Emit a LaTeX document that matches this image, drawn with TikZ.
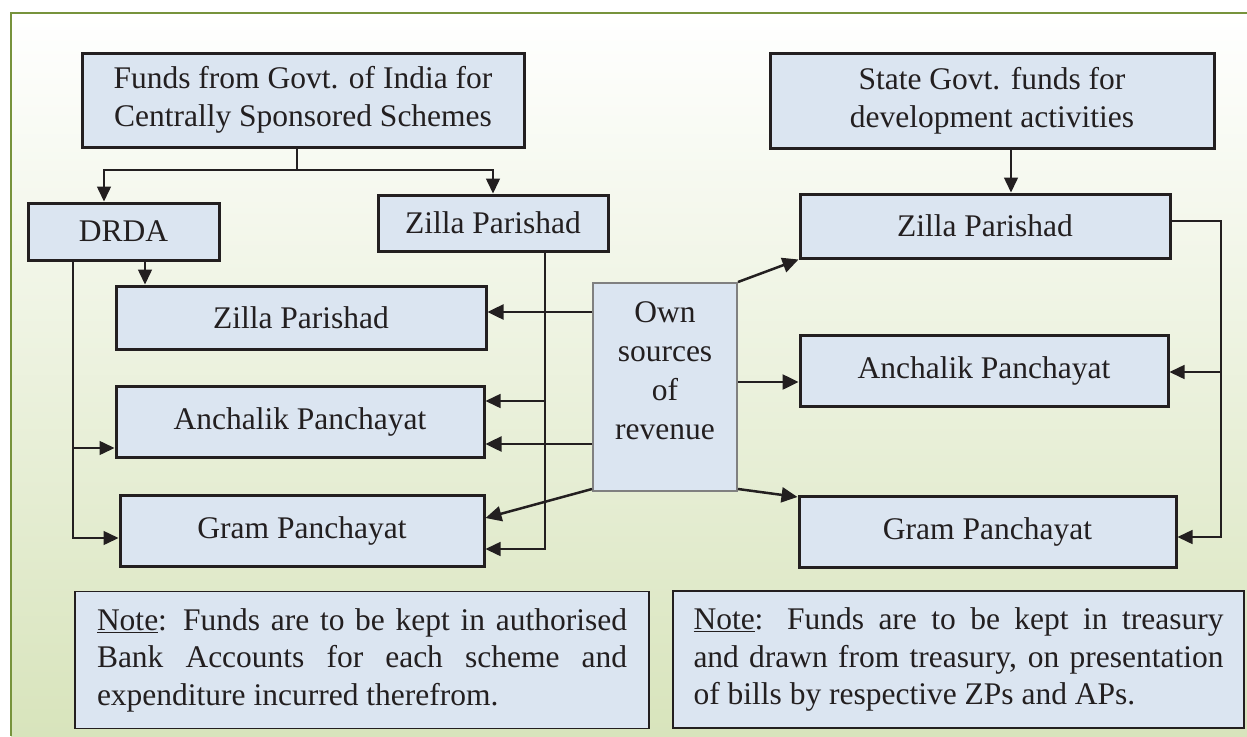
\documentclass[tikz,border=0pt]{standalone}
\usepackage{fontspec}
\setmainfont{Liberation Serif}
\usetikzlibrary{arrows.meta}
\definecolor{boxfill}{HTML}{DBE5F1}
\definecolor{boxline}{HTML}{231F20}
\definecolor{framegreen}{HTML}{77933C}
\definecolor{bgbottom}{HTML}{D8E4BC}
\newcommand{\boxtxt}{\fontsize{31.5}{38}\selectfont}
\tikzset{
  box/.style={draw=boxline, line width=3pt, fill=boxfill, font=\boxtxt, text=boxline, align=center, inner sep=0pt},
  ownbox/.style={draw=black!50, line width=2pt, fill=boxfill, inner sep=0pt},
  ownlbl/.style={font=\fontsize{31.5}{39}\selectfont, text=boxline, align=center, inner sep=0pt},
  notebox/.style={draw=boxline, line width=1.5pt, fill=boxfill, font=\fontsize{31.5}{37.5}\selectfont, text=boxline,
                  align=justify, text width=530pt, inner xsep=20pt, minimum height=137pt},
  link/.style={-{Triangle[length=15pt, width=14pt]}, line width=1.5pt, draw=boxline},
  olink/.style={-{Triangle[length=16pt, width=15pt]}, line width=2.5pt, draw=boxline},
  trunk/.style={line width=1.5pt, draw=boxline},
}

\begin{document}
\begin{tikzpicture}[x=1pt, y=-1pt]
\useasboundingbox (0,0) rectangle (1247,736);
% --- background + frame ---
\shade[top color=white, bottom color=bgbottom] (11,13) rectangle (1247,736);
\draw[framegreen, line width=2.5pt] (11,736) -- (11,13) -- (1247,13);

% --- sources of funds ---
\node[box, minimum width=442pt, minimum height=94pt] (funds) at (303,100) {Funds from Govt. of India for\\Centrally Sponsored Schemes};
\node[box, minimum width=444pt, minimum height=95pt] (state) at (992,100.5) {State Govt. funds for\\development activities};

% --- left side (GoI schemes) ---
\node[box, minimum width=191pt, minimum height=57pt] (drda) at (123.5,231.5) {DRDA};
\node[box, minimum width=230pt, minimum height=56pt] (zpa) at (493,223) {Zilla Parishad};
\node[box, minimum width=370pt, minimum height=63pt] (zpl) at (301,317.5) {Zilla Parishad};
\node[box, minimum width=368pt, minimum height=71pt] (apl) at (300,421.5) {Anchalik Panchayat};
\node[box, minimum width=364pt, minimum height=71pt] (gpl) at (302,530.5) {Gram Panchayat};

% --- own revenue ---
\node[ownbox, minimum width=144pt, minimum height=208pt] (own) at (665,387) {};
\node[ownlbl] (owntxt) at (665,371) {Own\\sources\\of\\revenue};

% --- right side (state funds) ---
\node[box, minimum width=370pt, minimum height=64pt] (zpr) at (985,226) {Zilla Parishad};
\node[box, minimum width=368pt, minimum height=71pt] (apr) at (984,370.5) {Anchalik Panchayat};
\node[box, minimum width=377pt, minimum height=71pt] (gpr) at (987.5,531.5) {Gram Panchayat};

% --- notes ---
\node[notebox, minimum width=574pt] (notel) at (362,660) {\underline{Note}: Funds are to be kept in authorised\linebreak Bank Accounts for each scheme and\linebreak expenditure incurred therefrom.};
\node[notebox, minimum width=571pt] (noter) at (958.5,659.5) {\underline{Note}: Funds are to be kept in treasury\linebreak and drawn from treasury, on presentation\linebreak of bills by respective ZPs and APs.};

% --- GoI funds ---
\coordinate (fk) at (297,170);
\draw[trunk] (funds.south -| fk) -- (fk);
\draw[link] (fk) -| ([xshift=-19.5pt]drda.north);
\draw[link] (fk) -| (zpa.north);
\draw[link] ([xshift=21.5pt]drda.south) -- ([xshift=21.5pt]drda.south |- zpl.north);

\coordinate (da) at (73,448);
\coordinate (dg) at (73,538);
\draw[link] (drda.south -| da) |- (dg -| gpl.west);
\draw[link] (da) -- (da -| apl.west);

\coordinate (za) at (545,401);
\coordinate (zg) at (545,549);
\draw[link] (zpa.south -| za) |- (zg -| gpl.east);
\draw[link] (za) -- (za -| apl.east);

% --- state funds ---
\draw[link] ([xshift=19pt]state.south) -- ([xshift=19pt]state.south |- zpr.north);
\coordinate (rt) at (1221,221);
\coordinate (ra) at (1221,372);
\coordinate (rg) at (1221,537);
\draw[link] (zpr.east |- rt) -- (rt) |- (gpr.east |- rg);
\draw[link] (ra) -- (ra -| apr.east);

% --- own sources ---
\draw[olink] (own.west |- 0,312) -- (zpl.east |- 0,312);
\draw[olink] (own.west |- 0,444) -- (apl.east |- 0,444);
\draw[olink] ([yshift=3pt]own.south west) -- (gpl.east |- 0,518);
\draw[olink] (own.north east) -- (zpr.south west);
\draw[olink] (own.east |- 0,382) -- (apr.west |- 0,382);
\draw[olink] ([yshift=3pt]own.south east) -- (gpr.west |- 0,497);
\end{tikzpicture}
\end{document}
